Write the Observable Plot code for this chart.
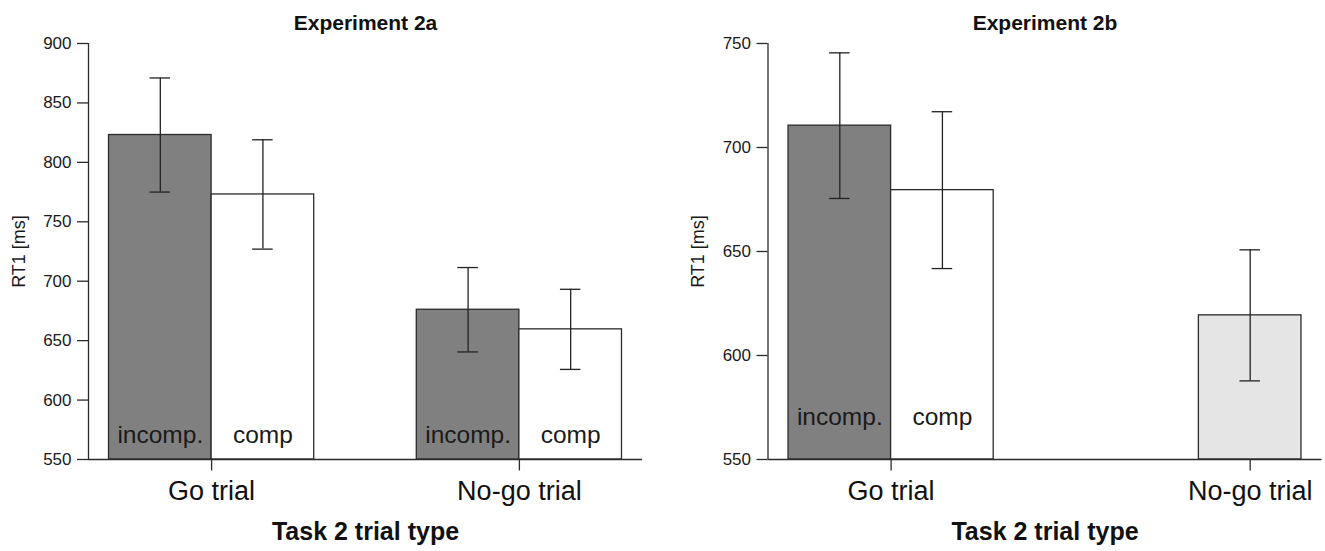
<!DOCTYPE html>
<html>
<head>
<meta charset="utf-8">
<script src="https://cdn.jsdelivr.net/npm/d3@7"></script>
<script src="https://cdn.jsdelivr.net/npm/@observablehq/plot@0.6"></script>
<style>
  body { margin: 0; background: #fff; }
  #wrap { display: flex; width: 1325px; height: 551px; overflow: hidden; }
  #wrap svg { display: block; flex: none; }
</style>
</head>
<body>
<div id="wrap"></div>
<script>
// ---------- data ----------
const trialTypes = ["Go trial", "No-go trial"];
const conditions = ["incomp.", "comp"];
const panelTitles = ["Experiment 2a", "Experiment 2b"];
const yLabel = "RT1 [ms]";
const xLabel = "Task 2 trial type";

// Experiment 2a: mean RT1 [ms] and error-bar half-widths, per trial type
const exp2aIncompMean = [823, 676];
const exp2aIncompErr  = [48, 35.5];
const exp2aCompMean   = [773, 659.5];
const exp2aCompErr    = [46, 33.7];
const exp2aYTicks = [550, 600, 650, 700, 750, 800, 850, 900];

// Experiment 2b (no-go trials have a single, unsplit bar)
const exp2bIncompMean = [710.5, null];
const exp2bIncompErr  = [35, null];
const exp2bCompMean   = [679.5, 619.3];
const exp2bCompErr    = [37.7, 31.5];
const exp2bYTicks = [550, 600, 650, 700, 750];

// ---------- build ----------
const FONT = "'Liberation Sans', Arial, Helvetica, sans-serif";
const INK = "#2b2b2b";

function buildBars(incM, incE, compM, compE) {
  const bars = [];
  trialTypes.forEach((t, g) => {
    const pair = [[incM[g], incE[g]], [compM[g], compE[g]]];
    const present = pair.filter(p => p[0] != null).length;
    pair.forEach(([m, e], c) => {
      if (m == null) return;
      const x1 = 1 + g * 3 + c; // barplot slots: width 1, one-slot gap between groups
      bars.push({trial: t, cond: conditions[c], x1, x2: x1 + 1, xc: x1 + 0.5,
                 mean: m, lo: m - e, hi: m + e, single: present === 1});
    });
  });
  return bars;
}

function fillOf(d) {
  if (d.single) return "#e5e5e5";
  return d.cond === "incomp." ? "#808080" : "#ffffff";
}

function panel({title, bars, yTicks, width, marginLeft, marginRight}) {
  const yDomain = [yTicks[0], yTicks[yTicks.length - 1]];
  const xDomain = [0.8, 6.2];
  const xTicks = trialTypes.map(t => d3.mean(bars.filter(b => b.trial === t), b => b.xc));
  const labelAt = new Map(xTicks.map((v, i) => [v, trialTypes[i]]));
  const labelY = yDomain[0] + 20.5;
  return Plot.plot({
    width, height: 551,
    marginTop: 43, marginBottom: 92, marginLeft, marginRight,
    style: {fontFamily: FONT, color: INK, background: "#fff"},
    x: {domain: xDomain, axis: null},
    y: {domain: yDomain, axis: null},
    color: {type: "identity"},
    marks: [
      Plot.rect(bars, {x1: "x1", x2: "x2", y1: () => yDomain[0], y2: "mean",
                       fill: fillOf, stroke: INK, strokeWidth: 1.3}),
      Plot.ruleX(bars, {x: "xc", y1: "lo", y2: "hi", stroke: "#222", strokeWidth: 1.3}),
      Plot.ruleY(bars, {y: "hi", x1: d => d.xc - 0.1, x2: d => d.xc + 0.1, stroke: "#222", strokeWidth: 1.3}),
      Plot.ruleY(bars, {y: "lo", x1: d => d.xc - 0.1, x2: d => d.xc + 0.1, stroke: "#222", strokeWidth: 1.3}),
      Plot.text(bars.filter(d => !d.single), {x: "xc", y: () => labelY, text: "cond",
                       fontSize: 24.5, fill: "#1a1a1a", lineAnchor: "middle"}),
      // axes
      Plot.ruleX([xDomain[0]], {y1: yDomain[0], y2: yDomain[1], stroke: INK, strokeWidth: 1.3}),
      Plot.ruleY([yDomain[0]], {x1: xDomain[0], x2: xDomain[1], stroke: INK, strokeWidth: 1.3}),
      Plot.axisY({ticks: yTicks, tickSize: 11, tickPadding: 6, fontSize: 17,
                  stroke: INK, strokeWidth: 1.3, fill: "#1a1a1a"}),
      Plot.axisX({ticks: xTicks, tickFormat: v => labelAt.get(v), tickSize: 11.5, tickPadding: 10,
                  fontSize: 27, stroke: INK, strokeWidth: 1.3, fill: "#111"}),
      // titles
      Plot.text([title], {frameAnchor: "top", dy: -20.5, fontSize: 21, fontWeight: "bold",
                          fill: "#111", lineAnchor: "middle"}),
      Plot.text([xLabel], {frameAnchor: "bottom", dy: 72.5, fontSize: 25, fontWeight: "bold",
                           fill: "#111", lineAnchor: "middle"}),
      Plot.text([yLabel], {frameAnchor: "left", dx: -69.5, rotate: -90, fontSize: 18,
                           textAnchor: "middle", fill: "#1a1a1a", lineAnchor: "middle"})
    ]
  });
}

const wrap = document.getElementById("wrap");
wrap.appendChild(panel({
  title: panelTitles[0],
  bars: buildBars(exp2aIncompMean, exp2aIncompErr, exp2aCompMean, exp2aCompErr),
  yTicks: exp2aYTicks, width: 662, marginLeft: 88, marginRight: 20
}));
wrap.appendChild(panel({
  title: panelTitles[1],
  bars: buildBars(exp2bIncompMean, exp2bIncompErr, exp2bCompMean, exp2bCompErr),
  yTicks: exp2bYTicks, width: 663, marginLeft: 105.5, marginRight: 3.5
}));
</script>
</body>
</html>
